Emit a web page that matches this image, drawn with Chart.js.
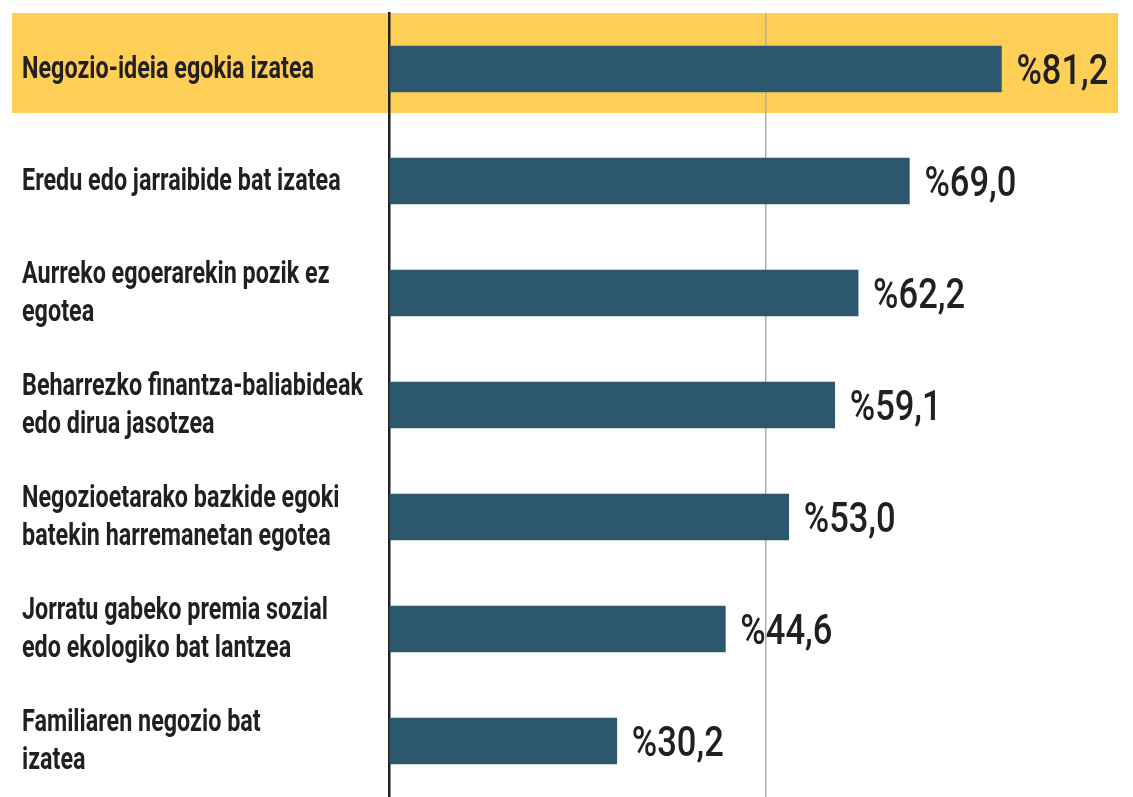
<!DOCTYPE html>
<html><head><meta charset="utf-8">
<script src="https://cdn.jsdelivr.net/npm/chart.js@4/dist/chart.umd.min.js"></script>
<style>html,body{margin:0;padding:0;background:#fff}#wrap{width:1133px;height:797px;position:relative}</style>
</head><body><div id="wrap"><canvas id="c"></canvas></div>
<script>
const categories = [
  ["Negozio-ideia egokia izatea"],
  ["Eredu edo jarraibide bat izatea"],
  ["Aurreko egoerarekin pozik ez", "egotea"],
  ["Beharrezko finantza-baliabideak", "edo dirua jasotzea"],
  ["Negozioetarako bazkide egoki", "batekin harremanetan egotea"],
  ["Jorratu gabeko premia sozial", "edo ekologiko bat lantzea"],
  ["Familiaren negozio bat", "izatea"]
];
const values = [81.2, 69.0, 62.2, 59.1, 53.0, 44.6, 30.2];
const valueLabels = ["%81,2", "%69,0", "%62,2", "%59,1", "%53,0", "%44,6", "%30,2"];
const highlightIndex = 0;

const LABEL_FAMILY = "Roboto, 'DejaVu Sans', sans-serif";
const LABEL_SIZE = 32;
const VALUE_FAMILY = "Roboto, 'DejaVu Sans', sans-serif";
const VALUE_FONT = "500 42px " + VALUE_FAMILY;

// horizontal condensing factors to mimic the condensed typeface
const mctx = document.createElement('canvas').getContext('2d');
mctx.font = "bold " + LABEL_SIZE + "px " + LABEL_FAMILY;
const LABEL_SX = 292 / mctx.measureText("Negozio-ideia egokia izatea").width;
mctx.font = VALUE_FONT;
const VALUE_SX = 92 / mctx.measureText("%81,2").width;

const bandPlugin = {
  id: 'band',
  beforeDraw(chart) {
    const {ctx} = chart;
    const y = chart.scales.y;
    const c = y.getPixelForValue(highlightIndex);
    ctx.save();
    ctx.fillStyle = '#FECF56';
    ctx.fillRect(12, c - 56, 1106, 100);
    ctx.restore();
  }
};
const condensePlugin = {
  id: 'condense',
  afterUpdate(chart) {
    const s = chart.scales.y;
    if (s.__patched) return;
    const orig = Object.getPrototypeOf(s).drawLabels;
    s._computeLabelArea = function() { return null; };
    s.drawLabels = function(area) {
      const ctx = this.ctx;
      ctx.save();
      ctx.translate(this.left, 1);
      ctx.scale(LABEL_SX, 1);
      ctx.translate(-this.left, 0);
      orig.call(this, area);
      ctx.restore();
    };
    s.__patched = true;
  }
};
const valuePlugin = {
  id: 'vals',
  afterDatasetsDraw(chart) {
    const {ctx} = chart;
    const meta = chart.getDatasetMeta(0);
    ctx.save();
    ctx.fillStyle = '#231F20';
    ctx.font = VALUE_FONT;
    ctx.textBaseline = 'alphabetic';
    ctx.textAlign = 'left';
    meta.data.forEach((bar, i) => {
      ctx.save();
      ctx.translate(bar.x + 15, bar.y + 15);
      ctx.scale(VALUE_SX, 1);
      ctx.fillText(valueLabels[i], 0, 0);
      ctx.restore();
    });
    ctx.restore();
  }
};

new Chart(document.getElementById('c'), {
  type: 'bar',
  data: {
    labels: categories,
    datasets: [{
      data: values,
      backgroundColor: '#2C586E',
      barThickness: 46,
      borderWidth: 0
    }]
  },
  options: {
    indexAxis: 'y',
    responsive: true,
    maintainAspectRatio: false,
    animation: false,
    layout: { padding: { left: 22, top: 13, right: 20, bottom: -4 } },
    plugins: { legend: { display: false }, tooltip: { enabled: false } },
    scales: {
      x: {
        min: 0, max: 96,
        ticks: { display: false, stepSize: 50 },
        grid: {
          drawTicks: false,
          color: (ctx) => (ctx.tick && ctx.tick.value === 50) ? '#AFAFAF' : 'rgba(0,0,0,0)',
          lineWidth: 1.5
        },
        border: { display: false }
      },
      y: {
        afterFit(scale) { scale.width = 367; scale.paddingTop = 0; scale.paddingBottom = 0; },
        grid: { display: false, drawTicks: false },
        border: { display: true, color: '#231F20', width: 2.5 },
        ticks: {
          crossAlign: 'far',
          color: '#231F20',
          padding: 0,
          font: { family: LABEL_FAMILY, size: LABEL_SIZE, weight: 'bold', lineHeight: 1.2 }
        }
      }
    }
  },
  plugins: [bandPlugin, condensePlugin, valuePlugin]
});
</script></body></html>
